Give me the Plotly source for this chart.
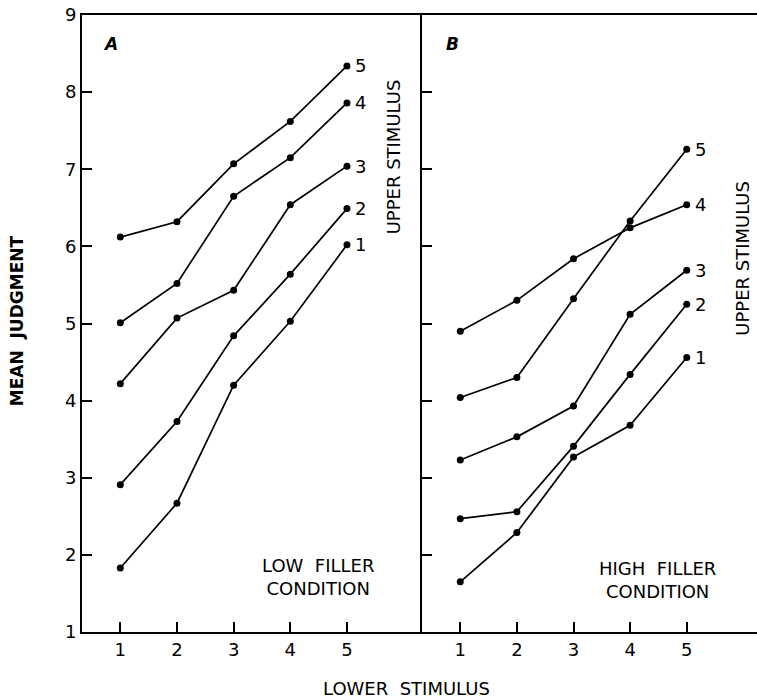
import plotly.graph_objects as go

lower_stimulus = [1, 2, 3, 4, 5]
upper_labels = ["1", "2", "3", "4", "5"]
y_ticks = [1, 2, 3, 4, 5, 6, 7, 8, 9]

# Panel A: low filler condition (one list per upper stimulus)
low_filler = {
    "1": [1.83, 2.67, 4.20, 5.03, 6.02],
    "2": [2.91, 3.73, 4.84, 5.64, 6.49],
    "3": [4.22, 5.07, 5.43, 6.54, 7.04],
    "4": [5.01, 5.52, 6.65, 7.15, 7.86],
    "5": [6.12, 6.32, 7.07, 7.62, 8.34],
}
# Panel B: high filler condition
high_filler = {
    "1": [1.65, 2.29, 3.27, 3.68, 4.56],
    "2": [2.47, 2.56, 3.41, 4.34, 5.25],
    "3": [3.23, 3.53, 3.93, 5.12, 5.69],
    "4": [4.90, 5.30, 5.84, 6.24, 6.54],
    "5": [4.04, 4.30, 5.32, 6.33, 7.26],
}

FONT = "DejaVu Sans"
fig = go.Figure()

for key in upper_labels:
    fig.add_trace(go.Scatter(x=lower_stimulus, y=low_filler[key], mode="lines+markers",
                             line=dict(color="black", width=1.7),
                             marker=dict(color="black", size=7),
                             xaxis="x", yaxis="y", showlegend=False))
    fig.add_trace(go.Scatter(x=lower_stimulus, y=high_filler[key], mode="lines+markers",
                             line=dict(color="black", width=1.7),
                             marker=dict(color="black", size=7),
                             xaxis="x2", yaxis="y2", showlegend=False))

ann = []
for key in upper_labels:
    ann.append(dict(x=5, y=low_filler[key][-1], xref="x", yref="y", text=key,
                    showarrow=False, xanchor="left", xshift=6,
                    font=dict(family=FONT, size=18, color="black")))
    ann.append(dict(x=5, y=high_filler[key][-1], xref="x2", yref="y2", text=key,
                    showarrow=False, xanchor="left", xshift=6,
                    font=dict(family=FONT, size=18, color="black")))

ann += [
    dict(x=5.82, y=7.16, xref="x", yref="y", text="UPPER STIMULUS", textangle=-90,
         showarrow=False, font=dict(family=FONT, size=18, color="black")),
    dict(x=5.99, y=5.85, xref="x2", yref="y2", text="UPPER STIMULUS", textangle=-90,
         showarrow=False, font=dict(family=FONT, size=18, color="black")),
    dict(x=0.82, y=8.63, xref="x", yref="y", text="<i><b>A</b></i>",
         showarrow=False, font=dict(family=FONT, size=17, color="black")),
    dict(x=0.86, y=8.63, xref="x2", yref="y2", text="<i><b>B</b></i>",
         showarrow=False, font=dict(family=FONT, size=17, color="black")),
    dict(x=4.49, y=1.71, xref="x", yref="y", text="LOW  FILLER<br>CONDITION",
         showarrow=False, align="center",
         font=dict(family=FONT, size=18, color="black")),
    dict(x=4.49, y=1.67, xref="x2", yref="y2", text="HIGH  FILLER<br>CONDITION",
         showarrow=False, align="center",
         font=dict(family=FONT, size=18, color="black")),
    dict(x=-0.096, y=0.504, xref="paper", yref="paper", text="<b>MEAN  JUDGMENT</b>",
         textangle=-90, showarrow=False, xanchor="center", yanchor="middle",
         font=dict(family=FONT, size=17, color="black")),
    dict(x=0.48, y=-0.091, xref="paper", yref="paper", text="LOWER  STIMULUS",
         showarrow=False, xanchor="center", yanchor="middle",
         font=dict(family=FONT, size=18, color="black")),
]

xcommon = dict(tickmode="array", tickvals=lower_stimulus,
               ticktext=[str(v) for v in lower_stimulus],
               ticks="inside", ticklen=10, tickwidth=1.6, tickcolor="black",
               showline=True, linecolor="black", linewidth=2, mirror=True,
               showgrid=False, zeroline=False,
               tickfont=dict(family=FONT, size=18, color="black"))
ycommon = dict(range=[1, 9], tickmode="array", tickvals=y_ticks,
               ticks="inside", ticklen=10, tickwidth=1.6, tickcolor="black",
               showline=True, linecolor="black", linewidth=2,
               showgrid=False, zeroline=False,
               tickfont=dict(family=FONT, size=18, color="black"))

fig.update_layout(
    width=757, height=700,
    margin=dict(l=82, r=0, t=15, b=68),
    paper_bgcolor="white", plot_bgcolor="white",
    xaxis=dict(domain=[0, 0.5037], range=[0.324, 6.324], anchor="y", **xcommon),
    xaxis2=dict(domain=[0.5037, 1], range=[0.324, 6.241], anchor="y2", **xcommon),
    yaxis=dict(anchor="x", ticktext=[str(v) for v in y_ticks], **ycommon),
    yaxis2=dict(anchor="x2", showticklabels=False, **ycommon),
    annotations=ann,
)

# remove the default 8px page margin so the figure fills the window exactly
fig.write_html("out.html", config={"displayModeBar": False},
               post_script="document.body.style.margin='0';")
